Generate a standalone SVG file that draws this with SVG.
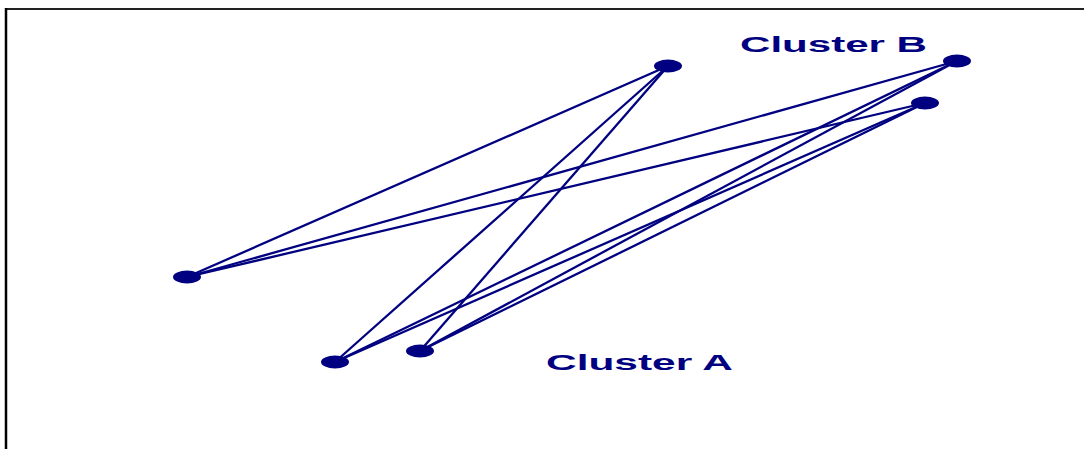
<svg xmlns="http://www.w3.org/2000/svg" width="1084" height="449" viewBox="0 0 1084 449">
  <style>
    .edge { stroke: #000080; stroke-width: 2.3; fill: none; }
    .node { fill: #000080; }
    .label { fill: #000080; font-family: "Liberation Sans", Arial, sans-serif; font-weight: bold; font-size: 22px; }
  </style>
  <rect width="1084" height="449" fill="#ffffff"/>
  <!-- frame: top and left rules only -->
  <line x1="5" y1="9" x2="1084" y2="9" stroke="#222222" stroke-width="2"/>
  <line x1="6" y1="8" x2="6" y2="449" stroke="#000000" stroke-width="2.5"/>

  <g id="connectors">
    <line class="edge" x1="187" y1="277" x2="668" y2="66"/>
    <line class="edge" x1="187" y1="277" x2="957" y2="61"/>
    <line class="edge" x1="187" y1="277" x2="925" y2="103"/>
    <line class="edge" x1="668" y1="66" x2="335" y2="362"/>
    <line class="edge" x1="668" y1="66" x2="420" y2="351"/>
    <line class="edge" x1="335" y1="362" x2="957" y2="61"/>
    <line class="edge" x1="335" y1="362" x2="925" y2="103"/>
    <line class="edge" x1="420" y1="351" x2="957" y2="61"/>
    <line class="edge" x1="420" y1="351" x2="925" y2="103"/>
  </g>

  <g id="node-top"><ellipse class="node" cx="668" cy="66" rx="14" ry="6.5"/></g>
  <g id="node-b1"><ellipse class="node" cx="957" cy="61" rx="14" ry="6.5"/></g>
  <g id="node-b2"><ellipse class="node" cx="925" cy="103" rx="14" ry="6.5"/></g>
  <g id="node-left"><ellipse class="node" cx="187" cy="277" rx="14" ry="6.5"/></g>
  <g id="node-a1"><ellipse class="node" cx="335" cy="362" rx="14" ry="6.5"/></g>
  <g id="node-a2"><ellipse class="node" cx="420" cy="351" rx="14" ry="6.5"/></g>

  <g id="label-b"><text class="label" x="740" y="52" textLength="187" lengthAdjust="spacingAndGlyphs">Cluster B</text></g>
  <g id="label-a"><text class="label" x="546" y="370" textLength="187" lengthAdjust="spacingAndGlyphs">Cluster A</text></g>
</svg>
